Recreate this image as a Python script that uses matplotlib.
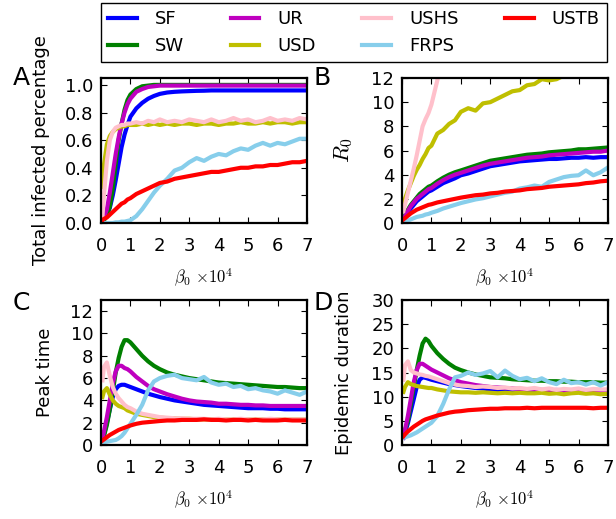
import matplotlib
matplotlib.use('Agg')
import matplotlib.pyplot as plt
import numpy as np

nan = np.nan

# beta_0 (x 10^4)
beta = [0.05, 0.1, 0.2, 0.3, 0.4, 0.5, 0.6, 0.7, 0.8, 0.9, 1.0, 1.2, 1.4, 1.6, 1.8, 2.0,
        2.25, 2.5, 2.75, 3.0, 3.25, 3.5, 3.75, 4.0, 4.25, 4.5, 4.75, 5.0, 5.25, 5.5,
        5.75, 6.0, 6.25, 6.5, 6.75, 7.0]

names = ['SF', 'SW', 'UR', 'USD', 'USHS', 'FRPS', 'USTB']
colors = ['b', 'g', 'm', 'y', 'pink', 'skyblue', 'r']

# A: total infected percentage
inf_sf = [0.02, 0.03, 0.06, 0.11, 0.2, 0.31, 0.43, 0.55, 0.64, 0.71, 0.77, 0.83, 0.87, 0.90, 0.92, 0.935,
          0.945, 0.95, 0.953, 0.955, 0.957, 0.958, 0.96, 0.96, 0.96, 0.96, 0.96, 0.96, 0.96, 0.96,
          0.96, 0.96, 0.96, 0.96, 0.96, 0.96]
inf_sw = [0.01, 0.02, 0.05, 0.12, 0.25, 0.43, 0.60, 0.72, 0.82, 0.89, 0.93, 0.97, 0.99, 0.995, 1.0, 1.0,
          1.0, 1.0, 1.0, 1.0, 1.0, 1.0, 1.0, 1.0, 1.0, 1.0, 1.0, 1.0, 1.0, 1.0,
          1.0, 1.0, 1.0, 1.0, 1.0, 1.0]
inf_ur = [0.02, 0.04, 0.10, 0.22, 0.36, 0.50, 0.62, 0.72, 0.80, 0.86, 0.90, 0.95, 0.97, 0.985, 0.99, 0.995,
          0.995, 0.995, 0.995, 0.995, 0.995, 0.995, 0.995, 0.995, 0.995, 0.995, 0.995, 0.995, 0.995, 0.995,
          0.995, 0.995, 0.995, 0.995, 0.995, 0.995]
inf_usd = [0.26, 0.42, 0.57, 0.63, 0.66, 0.68, 0.69, 0.70, 0.70, 0.71, 0.71, 0.71, 0.72, 0.71, 0.72, 0.71,
           0.72, 0.71, 0.72, 0.72, 0.71, 0.72, 0.72, 0.71, 0.72, 0.72, 0.73, 0.72, 0.72, 0.73,
           0.72, 0.73, 0.73, 0.72, 0.73, 0.73]
inf_ushs = [0.05, 0.20, 0.45, 0.60, 0.66, 0.69, 0.70, 0.71, 0.71, 0.72, 0.72, 0.73, 0.72, 0.74, 0.73, 0.75,
            0.73, 0.74, 0.73, 0.75, 0.74, 0.73, 0.75, 0.73, 0.74, 0.76, 0.74, 0.75, 0.73, 0.74,
            0.76, 0.74, 0.75, 0.74, 0.76, 0.75]
inf_frps = [0.0, 0.0, 0.0, 0.0, 0.0, 0.005, 0.005, 0.01, 0.01, 0.015, 0.02, 0.05, 0.10, 0.16, 0.22, 0.27,
            0.32, 0.38, 0.40, 0.44, 0.47, 0.45, 0.48, 0.50, 0.49, 0.52, 0.54, 0.53, 0.56, 0.58,
            0.56, 0.58, 0.57, 0.59, 0.61, 0.61]
inf_ustb = [0.02, 0.03, 0.04, 0.06, 0.08, 0.10, 0.12, 0.14, 0.15, 0.17, 0.18, 0.21, 0.23, 0.25, 0.27, 0.29,
            0.30, 0.32, 0.33, 0.34, 0.35, 0.36, 0.37, 0.37, 0.38, 0.39, 0.40, 0.40, 0.41, 0.41,
            0.42, 0.42, 0.43, 0.44, 0.44, 0.45]

# B: R0
r0_sf = [0.3, 0.5, 0.9, 1.2, 1.5, 1.8, 2.0, 2.2, 2.4, 2.6, 2.7, 3.0, 3.3, 3.5, 3.7, 3.95,
         4.1, 4.3, 4.5, 4.7, 4.8, 4.9, 5.0, 5.1, 5.15, 5.2, 5.25, 5.3, 5.3, 5.35,
         5.4, 5.4, 5.45, 5.4, 5.45, 5.45]
r0_sw = [0.4, 0.6, 1.1, 1.5, 1.8, 2.1, 2.4, 2.6, 2.8, 3.0, 3.1, 3.45, 3.75, 4.0, 4.2, 4.35,
         4.55, 4.75, 4.95, 5.15, 5.25, 5.35, 5.45, 5.55, 5.65, 5.7, 5.75, 5.85, 5.9, 5.95,
         6.0, 6.1, 6.1, 6.15, 6.2, 6.25]
r0_ur = [0.35, 0.55, 1.0, 1.4, 1.7, 2.0, 2.2, 2.4, 2.6, 2.8, 2.9, 3.25, 3.55, 3.8, 4.0, 4.15,
         4.35, 4.55, 4.75, 4.9, 5.0, 5.1, 5.2, 5.3, 5.4, 5.45, 5.5, 5.6, 5.65, 5.7,
         5.75, 5.8, 5.85, 5.9, 5.9, 6.0]
r0_usd = [1.5, 2.0, 2.7, 3.3, 3.9, 4.4, 4.8, 5.3, 5.7, 6.2, 6.4, 7.4, 7.7, 8.2, 8.5, 9.2,
          9.5, 9.3, 9.9, 10.0, 10.3, 10.6, 10.9, 11.0, 11.4, 11.5, 11.9, 11.8, 11.9, 12.2,
          nan, nan, nan, nan, nan, nan]
r0_ushs = [1.0, 1.5, 2.5, 3.5, 4.5, 5.6, 6.8, 8.0, 8.6, 9.1, 9.8, 11.8, 13.6, nan, nan, nan,
           nan, nan, nan, nan, nan, nan, nan, nan, nan, nan, nan, nan, nan, nan,
           nan, nan, nan, nan, nan, nan]
r0_frps = [0.05, 0.1, 0.2, 0.3, 0.4, 0.5, 0.55, 0.6, 0.7, 0.75, 0.85, 1.0, 1.2, 1.35, 1.5, 1.65,
           1.8, 1.95, 2.05, 2.2, 2.35, 2.5, 2.6, 2.85, 2.95, 3.1, 3.0, 3.4, 3.6, 3.8,
           3.9, 3.95, 4.35, 3.95, 4.2, 4.6]
r0_ustb = [0.3, 0.4, 0.6, 0.8, 0.95, 1.1, 1.2, 1.3, 1.4, 1.5, 1.55, 1.7, 1.8, 1.9, 2.0, 2.1,
           2.2, 2.3, 2.35, 2.45, 2.5, 2.6, 2.65, 2.7, 2.8, 2.85, 2.9, 3.0, 3.05, 3.1,
           3.15, 3.2, 3.3, 3.35, 3.45, 3.5]

# C: peak time
pk_sf = [0.4, 0.9, 2.0, 3.2, 4.3, 5.0, 5.3, 5.4, 5.4, 5.3, 5.2, 5.0, 4.8, 4.6, 4.45, 4.3,
         4.15, 4.0, 3.9, 3.8, 3.7, 3.6, 3.55, 3.5, 3.45, 3.4, 3.35, 3.3, 3.3, 3.3,
         3.25, 3.25, 3.2, 3.2, 3.2, 3.2]
pk_sw = [0.4, 0.8, 1.8, 3.2, 4.8, 6.5, 7.8, 8.8, 9.4, 9.4, 9.2, 8.6, 8.0, 7.5, 7.1, 6.8,
         6.5, 6.3, 6.15, 6.0, 5.9, 5.8, 5.7, 5.6, 5.55, 5.5, 5.45, 5.4, 5.35, 5.3,
         5.25, 5.2, 5.2, 5.15, 5.1, 5.1]
pk_ur = [0.5, 1.2, 2.5, 4.0, 5.5, 6.6, 7.1, 7.1, 6.9, 6.8, 6.6, 6.1, 5.7, 5.3, 5.0, 4.8,
         4.55, 4.35, 4.15, 4.0, 3.9, 3.85, 3.8, 3.7, 3.7, 3.65, 3.6, 3.6, 3.55, 3.55,
         3.5, 3.5, 3.5, 3.5, 3.5, 3.5]
pk_usd = [4.3, 4.8, 5.1, 4.5, 4.0, 3.7, 3.5, 3.4, 3.3, 3.1, 3.0, 2.8, 2.7, 2.6, 2.5, 2.45,
          2.4, 2.4, 2.35, 2.35, 2.3, 2.3, 2.3, 2.3, 2.3, 2.3, 2.3, 2.3, 2.3, 2.3,
          2.3, 2.3, 2.3, 2.3, 2.3, 2.3]
pk_ushs = [5.8, 7.0, 7.4, 6.2, 5.2, 4.6, 4.2, 3.9, 3.6, 3.4, 3.3, 3.0, 2.8, 2.7, 2.6, 2.5,
           2.45, 2.4, 2.4, 2.35, 2.35, 2.35, 2.3, 2.35, 2.3, 2.3, 2.35, 2.3, 2.3, 2.3,
           2.35, 2.3, 2.3, 2.3, 2.3, 2.3]
pk_frps = [0.2, 0.25, 0.3, 0.35, 0.4, 0.45, 0.6, 0.8, 1.1, 1.5, 1.9, 2.7, 3.6, 4.9, 5.7, 6.0,
           6.2, 6.3, 6.0, 5.9, 5.8, 6.1, 5.6, 5.4, 5.5, 5.2, 5.3, 5.0, 5.1, 4.9,
           4.8, 4.6, 4.9, 4.7, 4.5, 4.8]
pk_ustb = [0.4, 0.5, 0.7, 0.9, 1.05, 1.2, 1.35, 1.45, 1.55, 1.65, 1.75, 1.9, 2.0, 2.05, 2.1, 2.15,
           2.2, 2.2, 2.25, 2.25, 2.25, 2.3, 2.25, 2.25, 2.2, 2.25, 2.25, 2.2, 2.25, 2.2,
           2.2, 2.2, 2.25, 2.2, 2.2, 2.2]

# D: epidemic duration
dur_sf = [1.5, 2.5, 4.5, 7.0, 9.5, 12.0, 13.5, 14.0, 13.9, 13.7, 13.5, 13.2, 12.9, 12.6, 12.4, 12.2,
          12.0, 11.8, 11.7, 11.5, 11.4, 11.4, 11.3, 11.2, 11.2, 11.1, 11.1, 11.1, 11.0, 11.0,
          11.0, 11.0, 11.0, 11.0, 11.0, 11.0]
dur_sw = [2.0, 3.0, 5.0, 8.5, 12.0, 15.5, 18.5, 21.0, 22.0, 21.5, 20.5, 19.0, 17.8, 16.8, 16.0, 15.5,
          15.0, 14.6, 14.3, 14.0, 13.9, 13.8, 13.6, 13.5, 13.4, 13.3, 13.3, 13.2, 13.2, 13.1,
          13.1, 13.0, 13.0, 13.0, 12.9, 12.9]
dur_ur = [1.5, 3.0, 6.0, 9.5, 13.0, 15.5, 16.8, 16.8, 16.4, 16.0, 15.6, 15.0, 14.4, 13.8, 13.4, 13.0,
          12.7, 12.4, 12.2, 12.0, 11.9, 11.8, 11.7, 11.6, 11.5, 11.5, 11.4, 11.3, 11.4, 11.3,
          11.2, 11.3, 11.2, 11.2, 11.2, 11.2]
dur_usd = [11.0, 12.0, 13.0, 12.6, 12.4, 12.2, 12.1, 12.0, 11.9, 11.8, 11.8, 11.5, 11.3, 11.1, 11.0, 10.9,
           10.9, 10.8, 10.9, 10.8, 10.7, 10.8, 10.7, 10.8, 10.7, 10.7, 10.8, 10.6, 10.7, 10.5,
           10.7, 10.8, 10.6, 10.7, 10.5, 10.6]
dur_ushs = [13.5, 16.5, 17.3, 15.5, 15.0, 14.8, 14.6, 14.5, 14.3, 14.2, 14.0, 13.6, 13.2, 12.8, 12.5, 12.3,
            12.2, 12.0, 12.1, 12.0, 11.8, 11.9, 11.7, 11.8, 11.6, 11.8, 11.5, 11.7, 11.4, 11.6,
            11.5, 11.7, 11.4, 11.6, 11.5, 11.5]
dur_frps = [1.5, 1.6, 1.8, 2.0, 2.3, 2.6, 3.0, 3.4, 3.8, 4.2, 4.6, 6.0, 8.5, 11.5, 14.0, 14.3,
            15.0, 14.5, 14.8, 15.3, 14.0, 15.4, 14.3, 13.6, 13.9, 13.2, 13.8, 13.0, 12.6, 13.5,
            12.8, 13.0, 12.5, 13.0, 12.3, 13.0]
dur_ustb = [1.8, 2.2, 2.8, 3.3, 3.8, 4.2, 4.6, 5.0, 5.3, 5.5, 5.7, 6.1, 6.4, 6.7, 6.9, 7.0,
            7.2, 7.3, 7.4, 7.5, 7.5, 7.6, 7.6, 7.6, 7.7, 7.6, 7.7, 7.7, 7.7, 7.7,
            7.7, 7.7, 7.7, 7.6, 7.7, 7.7]

panels = [
    ('A', [inf_sf, inf_sw, inf_ur, inf_usd, inf_ushs, inf_frps, inf_ustb], 'Total infected percentage',
     (0, 1.05), np.arange(0, 1.01, 0.2), '%.1f'),
    ('B', [r0_sf, r0_sw, r0_ur, r0_usd, r0_ushs, r0_frps, r0_ustb], r'$R_0$',
     (0, 12), np.arange(0, 13, 2), '%d'),
    ('C', [pk_sf, pk_sw, pk_ur, pk_usd, pk_ushs, pk_frps, pk_ustb], 'Peak time',
     (0, 13), np.arange(0, 13, 2), '%d'),
    ('D', [dur_sf, dur_sw, dur_ur, dur_usd, dur_ushs, dur_frps, dur_ustb], 'Epidemic duration',
     (0, 30), np.arange(0, 31, 5), '%d'),
]

plt.rcParams['font.family'] = 'DejaVu Sans'
plt.rcParams['font.size'] = 13
plt.rcParams['mathtext.fontset'] = 'cm'
plt.rcParams['xtick.direction'] = 'in'
plt.rcParams['ytick.direction'] = 'in'
plt.rcParams['xtick.top'] = True
plt.rcParams['ytick.right'] = True
plt.rcParams['xtick.major.size'] = 4.5
plt.rcParams['ytick.major.size'] = 4.5
plt.rcParams['xtick.major.pad'] = 10
plt.rcParams['ytick.major.pad'] = 5.5

fig = plt.figure(figsize=(6.16, 5.19), dpi=100)

W, H = 616.0, 519.0
boxes = [(101, 78), (402, 78), (101, 300), (402, 300)]
aw, ah = 206, 145
label_x = [-0.25, -0.23, -0.23, -0.24]
letter_pos = [(13, 85), (313, 85), (13, 310), (313, 310)]

lines = []
for i, (letter, series, ylab, ylim, yticks, fmt) in enumerate(panels):
    x0, y0 = boxes[i]
    ax = fig.add_axes([x0 / W, 1 - (y0 + ah) / H, aw / W, ah / H])
    for vals, c, name in zip(series, colors, names):
        ln, = ax.plot(beta, vals, color=c, lw=3, label=name)
        if i == 0:
            lines.append(ln)
    ax.set_xlim(0, 7)
    ax.set_ylim(*ylim)
    ax.set_xticks(range(8))
    ax.set_yticks(yticks)
    ax.set_yticklabels([fmt % t for t in yticks])
    for s in ax.spines.values():
        s.set_linewidth(1.6)
    ax.set_xlabel(r'$\beta_0$ $\times10^4$', fontsize=12)
    ax.xaxis.set_label_coords(0.5, -0.30)
    if ylab.startswith('$'):
        ax.set_ylabel(ylab, fontsize=16)
    else:
        ax.set_ylabel(ylab)
    ax.yaxis.set_label_coords(label_x[i], 0.5)
    lx, ly = letter_pos[i]
    fig.text(lx / W, 1 - ly / H, letter, fontsize=18, ha='left', va='baseline')

fig.legend(handles=lines, loc='upper left', ncol=4, mode='expand',
           bbox_to_anchor=(101 / W, 1 - 63 / H, 506 / W, 60 / H),
           fancybox=False, edgecolor='black', framealpha=1, fontsize=13,
           handlelength=1.6, handletextpad=1.0, borderaxespad=0.0,
           labelspacing=0.5)

fig.savefig('out.png', dpi=100)
